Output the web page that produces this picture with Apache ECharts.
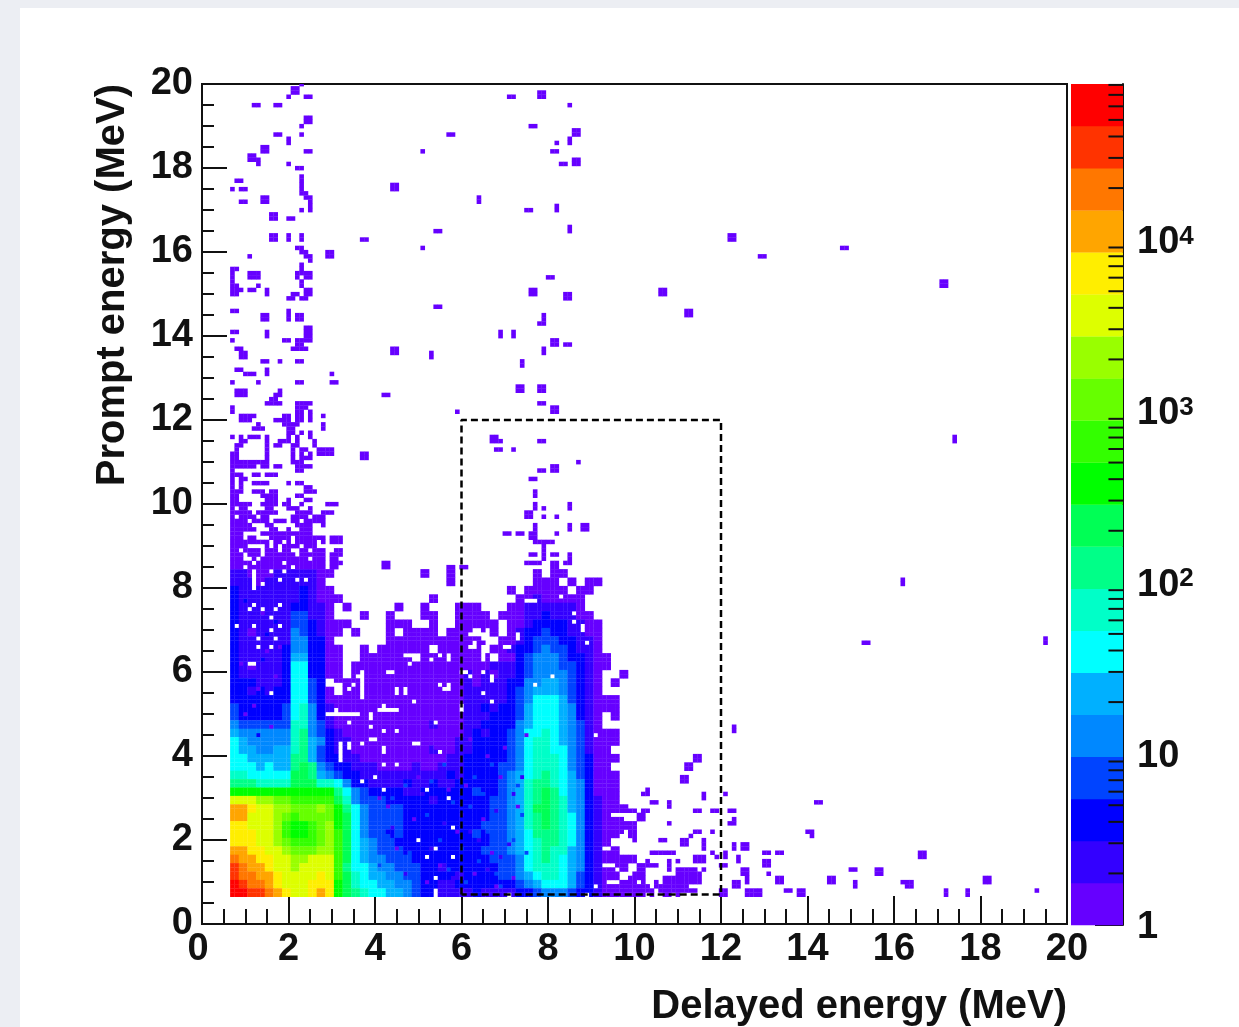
<!DOCTYPE html>
<html><head><meta charset="utf-8">
<style>
html,body{margin:0;padding:0;background:#eceef3;width:1239px;height:1027px;overflow:hidden}
#panel{position:absolute;left:20px;top:8px;right:0;bottom:0;background:#fff}
#chart{position:absolute;left:0;top:0;width:1239px;height:1027px;filter:blur(0.75px)}
</style>
<script src="https://cdn.jsdelivr.net/npm/echarts@6/dist/echarts.min.js"></script>
</head><body><div id="panel"></div><div id="chart"></div>
<script>
// Colour levels of the palette, bottom to top of the colour bar (level 1..20)
const levelColors=['#6600ff','#3300ff','#0000ff','#0044ff','#0088ff','#00b0ff','#00ffff','#00ffc8','#00ff88','#00ff55','#00ff00','#33ff00','#66ff00','#99ff00','#ddff00','#ffee00','#ffa500','#ff7700','#ff3300','#ff0000'];
const colorBarMax=81000;
const colorBarMinor=[2,3,4,5,6,7,8,9,20,30,40,50,60,70,80,90,200,300,400,500,600,700,800,900,2000,3000,4000,5000,6000,7000,8000,9000,20000,30000,40000,50000,60000,70000,80000];
const xTicks={min:0,max:20,interval:2};
const yTicks={min:0,max:20,interval:2};
const signalBox=[[6,0.7],[6,12],[12,12],[12,0.7],[6,0.7]];
// Dense part: colour level per 0.2 x 0.2 MeV block; first string is the top row (Prompt ~8.4 MeV),
// last string the bottom row (Prompt ~0.7 MeV); columns start at Delayed 0.65 MeV. 1-9,a-k = level, . = empty
const denseLevels=[
"22111222221"+"1..........1..1."+"........1.11.........",
"22212222221"+"..............1."+"........111.1.11.....",
"32222222321"+"1..............."+".....1.11111.11......",
"32222222321"+"11..........1..."+"......11211111.......",
"32222223322"+"1.1.....1..1...1"+"11...112222221.......",
"32222224422"+"1...1..1...11..1"+"111.11122322211......",
"32222224432"+"111....111..1..1"+"1111.11233332211.....",
"32122225432"+"11.1...1.1111.11"+"1.11.12334332211.....",
"32222225533"+"1......111111111"+"111.112344433221.....",
"32222235533"+"11..1.111111.111"+"11.1123345443221.....",
"32222236633"+"11..111111.11111"+"111.1134555433211....",
"32122237733"+"11.1111111111111"+"11122234555443211....",
"32222237733"+"11.1111111111111"+"2121223455554321..1..",
"33322237743"+".111111111111111"+"2122233556654321.1...",
"33232337743"+"1.11111111111111"+"2222234566654321.....",
"33333337743"+"1111111111111111"+"222223457776432111...",
"43333347853"+"2111111111111111"+"223233467776532111...",
"43333347853"+"2111111111111111"+"2223334677765321.1...",
"54444448854"+"2111111111112111"+"2233335677765421.....",
"65555558954"+"3211111111111111"+"232334577876542111...",
"76555558965"+"3221111111111112"+"233334578876542111...",
"76655668964"+"3221111111112112"+"23333457887754211....",
"77666669964"+"3322111111111122"+"333334578887543111...",
"77767669a95"+"4332221111211222"+"33334457888754311....",
"8877777aa96"+"5433222222222232"+"333345678987643111...",
"9998888aaa8"+"8753322223223223"+"333345689987653111...",
"bbbbbbbbbbb"+"b975433332233333"+"343345689a97653111...",
"fffeeddcccc"+"ca85444333332333"+"333445689a98653211...",
"hhgffeeddde"+"db97544443333333"+"33344568aa986532111..",
"hhfffedcddd"+"dba7544443333333"+"333445689a9875321....",
"ggfffecbbcd"+"eba7544443333333"+"334445689a9875321111.",
"gggffecbbcd"+"eca7544343333333"+"343445679998753211.1.",
"gggffedcccd"+"eca7654433333333"+"33344567899875321....",
"hhggffeddde"+"eca7654443333333"+"334445678988653211...",
"ihhggffeeff"+"fca7655444333333"+"33344457898765321111.",
"jihhgffefff"+"fc97765544433233"+"3333445788876532111.1",
"jiihhgffffg"+"fca8766554433332"+"333344567887643211.11",
"kjiihgfffgg"+"gba8776655433223"+"33333345677764321111.",
"kkjjihgffgh"+"gba9877665433222"+"232222334555433211111"
];
// Single 0.1 MeV bins that differ from their block: delayed bin, prompt bin, level
const mottledBins=[64,15,4,66,22,4,68,12,4,62,28,4,60,18,4,70,30,4,72,20,4,74,26,4,63,35,4,69,9,4,71,14,4,65,31,4,73,33,4,67,38,4,75,17,4,61,10,4,70,24,4,57,13,4,55,20,4,52,26,4,48,17,4,46,24,4,50,12,4,44,30,4,53,34,4,41,14,4,43,21,4,47,33,4,58,29,4,56,38,4,
63,12,1,67,17,1,59,22,1,72,11,1,65,25,1,61,33,1,69,35,1,73,28,1,55,14,1,49,25,1,45,18,1,52,10,1,57,32,1,47,38,1,43,28,1,50,35,1,41,30,1,66,40,1,70,42,1,75,45,1,62,44,1,54,42,1,48,44,1,68,9,1,60,8,1,
64,20,2,68,27,2,58,11,2,62,22,2,66,13,2,71,19,2,74,35,2,60,26,2,53,18,2,47,12,2,44,23,2,51,31,2,56,24,2,69,16,2,72,31,2,
10,50,1,13,56,1,9,62,1,15,65,1,11,70,1,14,74,1,17,59,1,18,66,1,12,52,1,16,47,1,11,58,3,14,63,3,17,72,3,10,77,3,13,45,3,18,54,3,15,69,3];
// Empty 0.1 MeV bins inside the dense blocks: delayed bin, prompt bin (bin = MeV x 10)
const emptyBins=[14,81,19,84,18,82,16,84,22,82,24,82,12,80,12,81,12,82,12,83,12,84,12,76,18,76,11,75,14,75,17,75,16,73,8,71,12,71,18,71,16,70,13,68,17,68,13,66,16,66,11,62,12,62,16,55,
29,50,30,50,31,50,32,50,33,50,34,50,35,50,36,50,31,51,34,48,39,50,39,49,41,51,42,51,43,51,44,51,45,51,42,52,39,47,42,46,45,46,39,44,40,44,32,40,32,41,32,42,32,43,34,42,34,43,37,43,42,41,42,42,49,43,32,39,42,38,45,38,37,34,40,35,42,32,49,53,
37,54,37,55,37,56,37,57,37,58,37,59,37,60,45,55,45,56,47,55,47,56,43,60,44,60,36,59,35,57,34,56,30,57,31,57,32,57,48,62,57,57,57,56,56,56,55,57,47,64,48,64,49,64,53,63,57,63,57,64,55,64,54,48,49,43,50,43,55,41,52,32,57,30,58,23,50,20,54,18,52,16,58,16,54,11,54,7,54,8,
60,60,61,60,62,59,65,60,67,58,67,59,65,55,67,53,60,52,60,51,62,69,65,69,65,68,63,67,63,66,66,70,66,69,66,68,66,67,62,66,70,66,71,66,73,69,73,68,69,69,70,69,65,64,65,63,68,64,86,74,88,71,88,70,86,72,89,67,77,57,81,59,91,45,93,18,94,18,93,14,94,14,95,14,96,13,94,10,95,10,96,10,99,13,99,12,91,9,89,7,71,7,75,77,76,77,77,77,83,78];
// Isolated single-count bins: prompt bin -> delayed bins (bin = MeV x 10)
const sparseBins={200:[23],197:[20,24,25,71,72],195:[12,13,17,18,85],190:[23,76,77],188:[17,18,23,57,58],187:[20,85],186:[20,85,82],184:[24,25,51,81,82],182:[13],181:[13,20,83,84],180:[22,23],178:[23],177:[8,9,23],176:[23],175:[7,9,10,23],174:[23,24],173:[24,25,64],172:[9,10,25,64],171:[25,82],170:[23,25,75,76,82],168:[20,21],166:[85],165:[54,55,85],164:[20,23],163:[20,23,37,38],161:[22,23,51,148,149],160:[23,24],159:[11,24,25,129,130],158:[25],157:[23],156:[7,8,23],155:[7,11,12,13,22,23,24,25],154:[7,11,12,13,22,24,25,80,81],153:[7,23],152:[7,8,13,23],151:[7,8,9,11,12,15,24,25],150:[7,8,15,21,22,24,25],149:[20,21,23,24],147:[54,55],146:[7,8,20],145:[20,22,23,79],144:[20,22,23,79],143:[78,79],142:[24,25],141:[7,8,15,24,25,69,72],140:[15,24,25,69,72],139:[7,19,20,22,23,24,25],138:[22,23,84,85],137:[8,9,21,22,23,24,79],136:[53,79],135:[53],134:[14,15,18,22,23,74],133:[74],132:[8,9,15],131:[10,11,12,15,30],129:[7,13,22,23,30,31],127:[8,9,10,18],126:[8,9,10,17,18,42,43],125:[16,17],124:[15,16,17,18,22,23,24,25,78,79],123:[7,22,23,24],122:[7,22,23,25,59],121:[9,10,11,12,19,20,22,23,25,28],120:[9,10,11,17,18,19,20,22,23,25],119:[13,19,20,21,22,28],118:[12,13,14,20,21,28],117:[20,21,23,25],116:[7,9,11,12,13,15,20,22,25,174],115:[9,10,15,18,19,20,22,26,69,78,79,174],114:[8,9,15,17,18,21,22,26],113:[8,15,21,23,24,27,28,29,30,68,69,72],112:[7,8,15,21,23,25,27,28,29,30],111:[7,8,15,21,23,24,25],110:[7,8,9,10,11,12,13,14,15,21,22,23,87],109:[7,8,9,10,11,12,14,15,17,18,22,23,24,25],108:[7,22,23,78,79],107:[7,8,9,12,13,15,16,17],106:[7,9,10,76,77],105:[7,9,12,13,14,15,20,22,23],104:[7,9,24,25],103:[7,8,9,12,13,14,16,17,24,25,26,77],102:[7,8,14,15,16,17,22,23,77],101:[7,8,15,16,17,20,24,25],100:[7,8,9,10,11,14,15,16,17,19,20,23,29,30,31,77,85],99:[7,9,10,15,16,20,21,22,25,77,79,85],98:[7,8,9,10,11,13,14,15,16,17,22,23,24,25,28,29,30],97:[7,9,10,11,12,14,15,21,22,23,24,26,27,28,79,82],96:[7,8,9,10,12,13,14,15,17,18,19,21,22,24,25,26,27,28],95:[7,8,9,10,11,15,16,22,23,24,25,28,77,85],94:[7,8,9,10,11,12,16,17,20,23,24,25,77,85],93:[7,8,9,14,15,16,17,18,19,20,21,22,23,24,25,70,71,73,74,82],92:[7,8,9,11,12,16,17,18,19,20,22,23,24,25,26,27,28,30,31,32],91:[7,8,9,10,11,12,13,14,15,17,18,20,22,23,24,25,26,28,30,31,32,77,78,79,80,81],90:[7,8,9,10,15,17,19,20,21,22,24,25,26,79],89:[7,8,10,11,12,13,15,16,17,19,20,23,24,26,27,28,31,32,79],88:[7,8,9,11,12,13,15,16,17,18,19,20,21,23,24,25,26,27,28,30,31,32,76,77,79,81,82,85],87:[7,8,9,12,14,15,16,17,18,19,20,21,22,23,24,26,27,28,30,31,79,85],86:[7,8,9,10,11,13,14,15,16,17,18,20,21,22,23,24,25,26,27,28,30,31,32,75,76,77,78,84,85],85:[7,8,9,11,12,13,14,15,16,17,18,19,20,22,23,24,25,26,27,28,30,31,57,58,60,61],84:[51],82:[162],81:[162],68:[195],67:[153,154,195],47:[123],46:[123],32:[103],31:[121,102,103,116],30:[116],29:[104,105,108,142,143],28:[108],27:[99,100,102,103,114,115,118,119,122,123],25:[94,95,96,97,123],24:[108,100,122,123],23:[94,95,100],22:[96,97,114,115,118,140,141],21:[113,141],20:[100,106,107,116],19:[116,123],18:[123,116],17:[104,105,106,107,108,109,118,130,131,133,134,121],16:[114,115,116,119,121,124],15:[114,115,116,110,103,108,124],14:[103,104,105,108,120,121],13:[108,116,110,111,112,113,114,150,151],12:[110,111,112,113,114,115,131],11:[107,108,109,110,111,112,113,114,115,126],10:[102,105,107,108,109,110,111,112,113,114,115,126,151,162],9:[98,99,100,101,102,103,105,106,107,108,109,110,111,112,151],8:[98,99,100,103,104,106,107,108,109,110,111,112,113,114,135,136,193,172,177],7:[104,107,108,110,172,177]};
// Isolated 2 x 2 bin squares: delayed bin, prompt bin of the lower left bin
const squareBins=[21,198,24,191,14,184,11,182,44,175,14,172,16,168,16,163,29,159,14,144,44,136,9,135,37,111,42,85,78,197,86,188,86,181,76,150,84,149,81,138,73,127,78,127,81,122,67,115,81,108,75,97,88,94,76,92,81,85,122,163,171,152,106,150,112,145,114,39,112,37,111,34,101,25,99,21,111,19,125,18,166,16,130,14,156,12,125,12,133,10,145,10,163,9,181,10,123,9,138,7,120,7,126,7,128,7];

const decade=Math.log10(colorBarMax)/levelColors.length;
const edge=i=>Math.pow(10,i*decade);
const countOfLevel=l=>Math.round(Math.pow(10,(l-0.5)*decade)*100)/100;
const cells=new Map();
const empties=new Set();
for(let i=0;i<emptyBins.length;i+=2)empties.add(emptyBins[i]+'_'+emptyBins[i+1]);
const put=(n,m,l)=>{const k=n+'_'+m;if(!empties.has(k)&&!cells.has(k))cells.set(k,[n/10,m/10,countOfLevel(l)]);};
for(let i=0;i<mottledBins.length;i+=3)put(mottledBins[i],mottledBins[i+1],mottledBins[i+2]);
denseLevels.forEach((row,idx)=>{
  const r=denseLevels.length-1-idx;
  for(let c=0;c<row.length;c++){
    if(row[c]==='.')continue;
    const l=parseInt(row[c],21);
    for(const dx of[0,1])for(const dy of[0,1])put(7+2*c+dx,7+2*r+dy,l);
  }
});
Object.keys(sparseBins).forEach(m=>sparseBins[m].forEach(n=>put(n,+m,1)));
for(let i=0;i<squareBins.length;i+=2){for(const dx of[0,1])for(const dy of[0,1])put(squareBins[i]+dx,squareBins[i+1]+dy,1);}
const histogram=[...cells.values()];
const barBands=levelColors.map((c,i)=>[edge(i),edge(i+1),i]);

const font='"Liberation Sans",Arial,sans-serif';
const ink='#111';
const pieces=levelColors.map((c,i)=>({gte:i===0?0:edge(i),lt:edge(i+1),color:c}));
const sup={fontFamily:font,fontSize:26,fontWeight:'bold',color:ink,verticalAlign:'top',lineHeight:36,padding:[0,0,24,0]};
const chart=echarts.init(document.getElementById('chart'),null,{renderer:'canvas'});
chart.setOption({
 animation:false,backgroundColor:'transparent',
 grid:[{left:202,top:84,width:865,height:840,show:true,borderColor:'#111',borderWidth:2,backgroundColor:'transparent',containLabel:false},
       {left:1071,top:84,width:52,height:841,show:false}],
 visualMap:{show:false,type:'piecewise',seriesIndex:0,dimension:2,pieces:pieces},
 xAxis:[{type:'value',gridIndex:0,...xTicks,position:'bottom',
   axisLine:{show:true,onZero:false,lineStyle:{color:'#111',width:2}},
   axisTick:{show:true,inside:true,length:28,lineStyle:{color:'#111',width:2}},
   minorTick:{show:true,splitNumber:4,length:15,lineStyle:{color:'#111',width:2}},
   splitLine:{show:false},
   axisLabel:{fontFamily:font,fontSize:38,fontWeight:'bold',color:ink,margin:7,hideOverlap:false,showMinLabel:true,showMaxLabel:true,
     formatter:v=>v===0?'{z|0}':String(v),rich:{z:{fontFamily:font,fontSize:38,fontWeight:'bold',color:ink,padding:[0,8,0,0]}}},
   name:'Delayed energy (MeV)',nameLocation:'end',nameGap:0,
   nameTextStyle:{fontFamily:font,fontSize:40,fontWeight:'bold',color:ink,align:'right',verticalAlign:'top',padding:[63,0,0,0]}},
  {type:'value',gridIndex:1,min:0,max:1,show:false}],
 yAxis:[{type:'value',gridIndex:0,...yTicks,position:'left',
   axisLine:{show:true,onZero:false,lineStyle:{color:'#111',width:2}},
   axisTick:{show:true,inside:true,length:25,lineStyle:{color:'#111',width:2}},
   minorTick:{show:true,splitNumber:4,length:12,lineStyle:{color:'#111',width:2}},
   splitLine:{show:false},
   axisLabel:{fontFamily:font,fontSize:38,fontWeight:'bold',color:ink,margin:9,padding:[6,0,0,0],showMinLabel:true,showMaxLabel:true},
   name:'Prompt energy (MeV)',nameLocation:'end',nameGap:0,nameRotate:90,
   nameTextStyle:{fontFamily:font,fontSize:40,fontWeight:'bold',color:ink,align:'right',verticalAlign:'bottom',padding:[0,0,69,0]}},
  {type:'log',logBase:10,gridIndex:1,min:1,max:colorBarMax,position:'right',
   axisLine:{show:true,onZero:false,lineStyle:{color:'#111',width:2}},
   axisTick:{show:true,inside:true,length:28,lineStyle:{color:'#111',width:2}},
   minorTick:{show:false},splitLine:{show:false},
   axisLabel:{fontFamily:font,fontSize:38,fontWeight:'bold',color:ink,margin:14,padding:[6,0,0,0],showMinLabel:true,showMaxLabel:false,
     formatter:v=>{const e=Math.round(Math.log10(v));if(Math.abs(Math.pow(10,e)-v)>1e-6*v)return '';
       return e===0?'1':e===1?'10':'10{s|'+e+'}';},rich:{s:sup}}}],
 series:[
  {type:'custom',name:'Events',coordinateSystem:'cartesian2d',xAxisIndex:0,yAxisIndex:0,data:histogram,clip:true,progressive:0,silent:true,
   encode:{x:0,y:1},z:2,
   renderItem:(p,api)=>{const x=api.value(0),y=api.value(1);const a=api.coord([x-0.05,y-0.05]),b=api.coord([x+0.05,y+0.05]);
     return {type:'rect',shape:{x:a[0],y:b[1],width:b[0]-a[0]+0.3,height:a[1]-b[1]+0.3},style:{fill:api.visual('color')}};}},
  {type:'line',name:'Selection',xAxisIndex:0,yAxisIndex:0,data:signalBox,symbol:'none',silent:true,z:5,
   lineStyle:{color:'#000',width:2.5,type:[7,4]}},
  {type:'custom',name:'Palette',coordinateSystem:'cartesian2d',xAxisIndex:1,yAxisIndex:1,data:barBands,silent:true,z:2,progressive:0,
   encode:{y:[0,1]},
   renderItem:(p,api)=>{const a=api.coord([0,api.value(0)]),b=api.coord([1,api.value(1)]);
     return {type:'rect',shape:{x:a[0],y:b[1],width:b[0]-a[0],height:a[1]-b[1]+0.3},style:{fill:levelColors[api.value(2)]}};}},
  {type:'custom',name:'Palette ticks',coordinateSystem:'cartesian2d',xAxisIndex:1,yAxisIndex:1,data:colorBarMinor.map(v=>[v]),silent:true,z:6,progressive:0,
   encode:{y:0},
   renderItem:(p,api)=>{const a=api.coord([0.72,api.value(0)]),b=api.coord([1,api.value(0)]);
     return {type:'line',shape:{x1:a[0],y1:a[1],x2:b[0],y2:b[1]},style:{stroke:'#111',lineWidth:2}};}}
 ]
});
</script></body></html>
